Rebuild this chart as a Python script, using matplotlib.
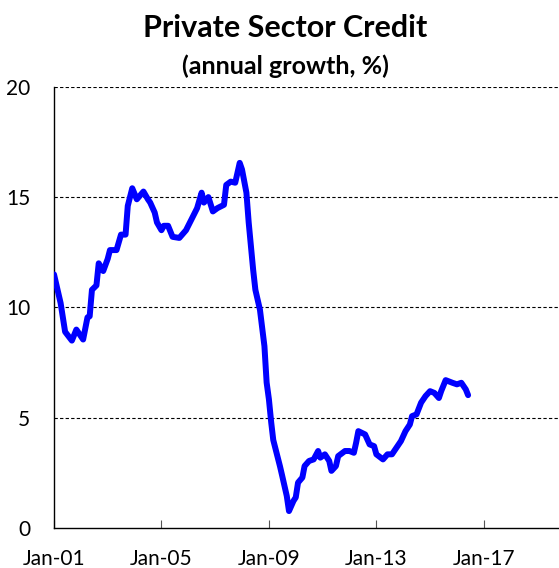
import numpy as np
import pandas as pd
import matplotlib
matplotlib.use('Agg')
import matplotlib.pyplot as plt
import matplotlib.dates as mdates

# monthly private sector credit growth
months = ['2001-01', '2001-04', '2001-06', '2001-09', '2001-11', '2002-02', '2002-04', '2002-05',
          '2002-06', '2002-08', '2002-09', '2002-11', '2003-01', '2003-02', '2003-05', '2003-07',
          '2003-09', '2003-10', '2003-12', '2004-02', '2004-05', '2004-07', '2004-08', '2004-10',
          '2004-11', '2005-01', '2005-02', '2005-04', '2005-06', '2005-09', '2005-12', '2006-04',
          '2006-05', '2006-07', '2006-08', '2006-10', '2006-12', '2007-02', '2007-05', '2007-06',
          '2007-08', '2007-10', '2007-12', '2008-01', '2008-03', '2008-04', '2008-06', '2008-07',
          '2008-09', '2008-11', '2008-12', '2009-01', '2009-02', '2009-03', '2009-06', '2009-07',
          '2009-09', '2009-10', '2009-12', '2010-01', '2010-02', '2010-04', '2010-05', '2010-07',
          '2010-09', '2010-11', '2010-12', '2011-02', '2011-04', '2011-05', '2011-07', '2011-08',
          '2011-11', '2012-01', '2012-03', '2012-04', '2012-05', '2012-08', '2012-10', '2012-12',
          '2013-01', '2013-04', '2013-06', '2013-08', '2013-10', '2013-12', '2014-02', '2014-04',
          '2014-05', '2014-07', '2014-09', '2014-11', '2015-01', '2015-03', '2015-05', '2015-06',
          '2015-08', '2015-11', '2016-01', '2016-03', '2016-05', '2016-06']
growth = [11.5, 10.2, 8.9, 8.5, 9.0, 8.55, 9.55, 9.6,
          10.8, 11.0, 12.0, 11.65, 12.2, 12.6, 12.6, 13.3,
          13.3, 14.6, 15.4, 14.9, 15.25, 14.9, 14.75, 14.3,
          13.85, 13.5, 13.7, 13.7, 13.2, 13.15, 13.5, 14.3,
          14.5, 15.2, 14.75, 15.0, 14.35, 14.5, 14.65, 15.55,
          15.7, 15.65, 16.55, 16.25, 15.2, 13.85, 11.7, 10.8,
          9.9, 8.25, 6.6, 5.84, 4.8, 4.0, 2.8, 2.37,
          1.46, 0.78, 1.24, 1.4, 2.07, 2.3, 2.82, 3.05,
          3.12, 3.5, 3.2, 3.35, 3.05, 2.6, 2.82, 3.27,
          3.5, 3.5, 3.42, 3.88, 4.4, 4.25, 3.8, 3.72,
          3.35, 3.12, 3.35, 3.35, 3.65, 3.95, 4.4, 4.7,
          5.08, 5.16, 5.69, 5.99, 6.21, 6.13, 5.9, 6.21,
          6.71, 6.59, 6.52, 6.59, 6.29, 6.03]
yticks = [0, 5, 10, 15, 20]
xtick_years = [2001, 2005, 2009, 2013, 2017]

plt.rcParams['font.family'] = ['Lato', 'DejaVu Sans']

dates = pd.to_datetime(months)

fig = plt.figure(figsize=(5.59, 5.68), dpi=100)
ax = fig.add_axes([0.0966, 0.0699, 0.9034, 0.7775])

for v in yticks[1:]:
    ax.axhline(v, color='black', lw=0.8, ls=(0, (3, 2)), zorder=1)

ax.plot(dates, growth, color='#0000ff', lw=4.3, solid_capstyle='round', solid_joinstyle='round', zorder=3)

ax.set_ylim(0, 20)
ax.set_yticks(yticks)
ax.set_xlim(pd.Timestamp('2001-01-01'), pd.Timestamp('2019-10-20'))
ax.set_xticks([pd.Timestamp('%d-01-01' % y) for y in xtick_years])
ax.xaxis.set_major_formatter(mdates.DateFormatter('%b-%y'))

for s in ['top', 'right']:
    ax.spines[s].set_visible(False)
ax.spines['left'].set_color('black')
ax.spines['bottom'].set_color('black')
ax.spines['left'].set_linewidth(1.0)
ax.spines['bottom'].set_linewidth(1.0)
ax.tick_params(axis='y', length=0, pad=17, labelsize=15)
ax.tick_params(axis='x', direction='in', length=6, color='#555555', pad=15, labelsize=15)

fig.text(0.51, 0.95, 'Private Sector Credit', ha='center', va='center', fontsize=22, fontweight='bold')
fig.text(0.51, 0.884, '(annual growth, %)', ha='center', va='center', fontsize=18, fontweight='bold')

plt.savefig('out.png', dpi=100)
